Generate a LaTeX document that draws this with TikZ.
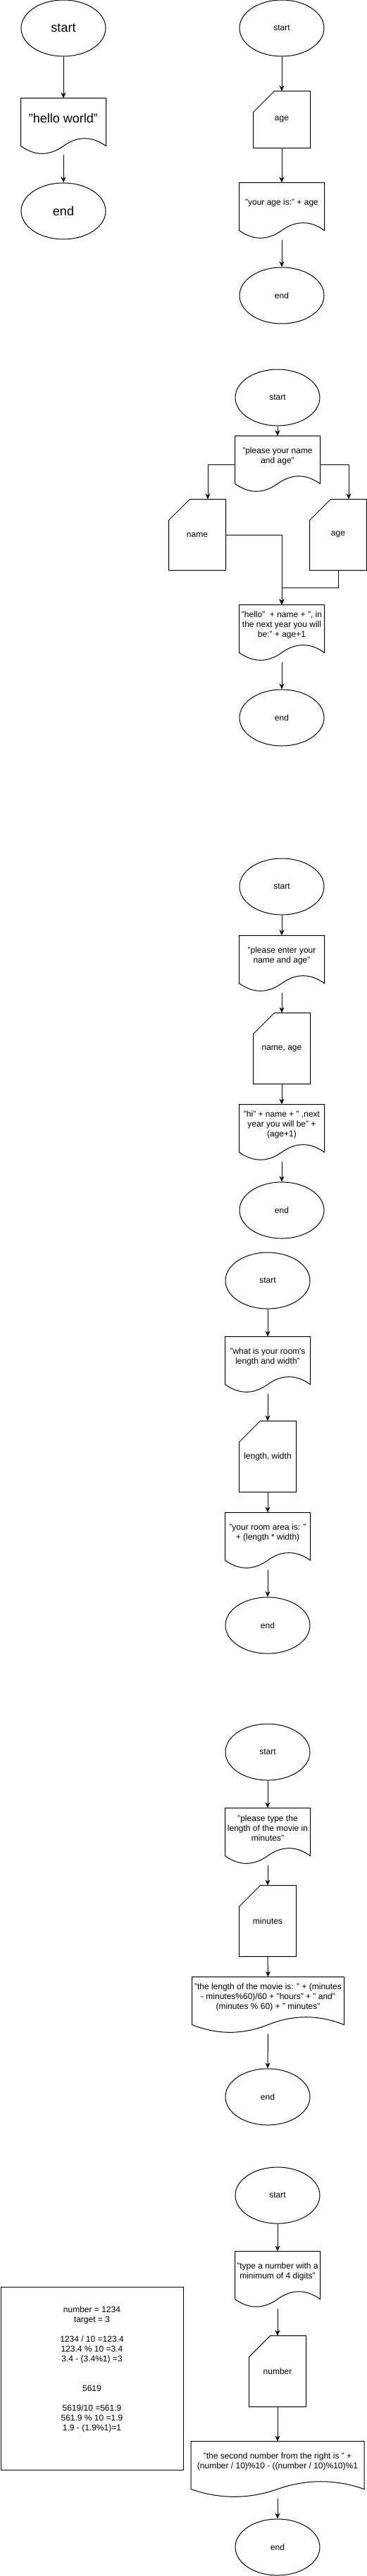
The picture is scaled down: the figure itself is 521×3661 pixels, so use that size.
\documentclass[tikz,border=0pt]{standalone}
\usepackage{fontspec}
\setmainfont{Liberation Sans}
\usetikzlibrary{arrows.meta,positioning,calc,shapes.geometric}

\begin{document}
\begin{tikzpicture}[x=1pt,y=-1pt,line width=1pt,font=\fontsize{12}{14}\selectfont,>={Stealth[length=8pt,width=7pt,inset=2.5pt]}]
\tikzset{terminal/.style={ellipse,draw,minimum width=120pt,minimum height=80pt,inner sep=0pt}}
\tikzset{doc/.style={rectangle,minimum width=120pt,minimum height=56pt,inner sep=0pt,align=center}}
\tikzset{card/.style={rectangle,minimum width=80pt,minimum height=100pt,inner sep=0pt,align=center}}
\tikzset{big/.style={font=\fontsize{18}{21}\selectfont}}
\useasboundingbox (0,0) rectangle (521,3661);
% hello world
\node[terminal,big] (s1) at (90,40) {start};
\node[doc,big] (d1) at (90,168) {"hello world"};
\node[terminal,big] (e1) at (90,300) {end};
\draw[->] (s1.south) -- (d1.north);
\draw[->] ([yshift=-24pt]d1.south) -- (e1.north);
% age
\node[terminal] (s2) at (400,40) {start};
\node[card,minimum height=80pt] (c2) at (400,170) {age};
\node[doc] (d2) at (400,288) {"your age is:" + age};
\node[terminal] (e2) at (400,420) {end};
\draw[->] (s2.south) -- (c2.north);
\draw[->] (c2.south) -- (d2.north);
\draw[->] ([yshift=-24pt]d2.south) -- (e2.north);
% name and age
\node[terminal] (s3) at (394,565) {start};
\node[doc] (d3) at (394,648) {"please your name\\and age"};
\node[card] (c3a) at (280,760) {name};
\node[card] (c3b) at (480,760) {age};
\node[doc] (d3b) at (400,888) {"hello" ~+ name + ", in\\the next year you will\\be:" + age+1};
\node[terminal] (e3) at (400,1020) {end};
\draw[->] (s3.south) -- (d3.north);
\draw[->] ([yshift=-12pt]d3.west) -| ([xshift=15pt]c3a.north);
\draw[->] ([yshift=-12pt]d3.east) -| ([xshift=15pt]c3b.north);
\draw[->] (c3a.east) -| (d3b.north);
\draw[->] (c3b.south) -- ++(0pt,-25pt) -| (d3b.north);
\draw[->] ([yshift=-24pt]d3b.south) -- (e3.north);
% hi name
\node[terminal] (s4) at (400,1260) {start};
\node[doc] (d4) at (400,1358) {"please enter your\\name and age"};
\node[card] (c4) at (400,1490) {name, age};
\node[doc] (d4b) at (400,1598) {"hi" + name + " ,next\\year you will be" +\\(age+1)};
\node[terminal] (e4) at (400,1720) {end};
\draw[->] (s4.south) -- (d4.north);
\draw[->] ([yshift=-24pt]d4.south) -- (c4.north);
\draw[->] (c4.south) -- (d4b.north);
\draw[->] ([yshift=-24pt]d4b.south) -- (e4.north);
% room
\node[terminal] (s5) at (380,1820) {start};
\node[doc] (d5) at (380,1928) {"what is your room\textquotesingle s\\length and width"};
\node[card] (c5) at (380,2070) {length, width};
\node[doc] (d5b) at (380,2178) {"your room area is: "\\+ (length * width)};
\node[terminal] (e5) at (380,2310) {end};
\draw[->] (s5.south) -- (d5.north);
\draw[->] ([yshift=-24pt]d5.south) -- (c5.north);
\draw[->] (c5.south) -- (d5b.north);
\draw[->] ([yshift=-24pt]d5b.south) -- (e5.north);
% movie
\node[terminal] (s6) at (380,2490) {start};
\node[doc] (d6) at (380,2598) {"please type the\\length of the movie in\\minutes"};
\node[card] (c6) at (380,2730) {minutes};
\node[doc,minimum width=215pt] (d6b) at (380.5,2838) {"the length of the movie is: " + (minutes\\- minutes\%60)/60 + "hours" + " and"\\(minutes \% 60) + " minutes"};
\node[terminal] (e6) at (380,2980) {end};
\draw[->] (s6.south) -- (d6.north);
\draw[->] ([yshift=-24pt]d6.south) -- (c6.north);
\draw[->] (c6.south) -- (d6b.north);
\draw[->] ([yshift=-24pt]d6b.south) -- (e6.north);
% second digit
\node[terminal] (s7) at (394,3120) {start};
\node[doc] (d7) at (394,3228) {"type a number with a\\minimum of 4 digits"};
\node[card] (c7) at (394,3370) {number};
\node[doc,minimum width=245pt] (d7b) at (394,3498) {"the second number from the right is " +\\(number / 10)\%10 - ((number / 10)\%10)\%1};
\node[terminal] (e7) at (394,3620) {end};
\draw[->] (s7.south) -- (d7.north);
\draw[->] ([yshift=-24pt]d7.south) -- (c7.north);
\draw[->] (c7.south) -- (d7b.north);
\draw[->] ([yshift=-24pt]d7b.south) -- (e7.north);
\node[draw,minimum width=259pt,minimum height=260pt] (calc) at (130.5,3380) {};
\node[align=center] (calctext) at ([yshift=13pt]calc.center) {number = 1234\\target = 3\\~\\1234 / 10 =123.4\\123.4 \% 10 =3.4\\3.4 - (3.4\%1) =3\\~\\~\\5619\\~\\5619/10 =561.9\\561.9 \% 10 =1.9\\1.9 - (1.9\%1)=1};
% outlines
\foreach \c in {c2,c3a,c3b,c4,c5,c6,c7}
  \draw (\c.south west) -- ([yshift=-30pt]\c.north west) -- ([xshift=30pt]\c.north west) -- (\c.north east) -- (\c.south east) -- cycle;
\foreach \d in {d1,d2,d3,d3b,d4,d4b,d5,d5b,d6,d6b,d7,d7b}
  \draw let \p1=(\d.north west), \p2=(\d.north east) in
    (\p1) -- (\p2) -- (\x2,\y1-68pt)
    .. controls ({\x1+5*(\x2-\x1)/6},\y1-53.6pt) and ({\x1+4*(\x2-\x1)/6},\y1-53.6pt) .. ({(\x1+\x2)/2},\y1-68pt)
    .. controls ({\x1+2*(\x2-\x1)/6},\y1-82.4pt) and ({\x1+(\x2-\x1)/6},\y1-82.4pt) .. (\x1,\y1-68pt) -- cycle;
\end{tikzpicture}
\end{document}
